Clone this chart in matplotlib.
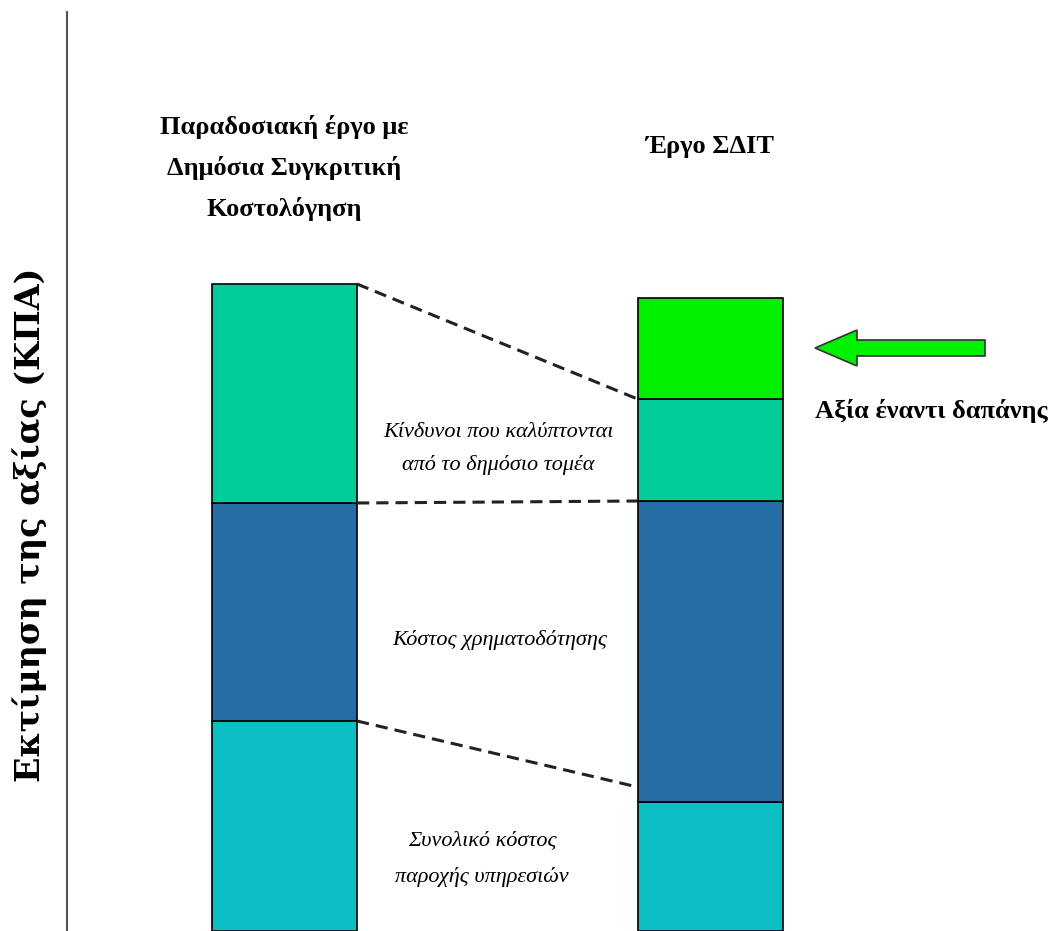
import matplotlib.pyplot as plt
from matplotlib.patches import FancyArrow

plt.rcParams['font.family'] = ['Liberation Serif', 'DejaVu Serif']

# stacked segments, bottom to top (arbitrary value units)
left_vals = [210, 218, 219]
right_vals = [129, 301, 102, 101]
left_colors = ['#0BBFC3', '#266CA5', '#00CC99']
right_colors = ['#0BBFC3', '#266CA5', '#00CC99', '#00F000']

# dashed connectors: (value on left bar, value on right bar)
connectors = [(647, 532), (428, 430), (210, 144)]

left_title = 'Παραδοσιακή έργο με\nΔημόσια Συγκριτική\nΚοστολόγηση'
right_title = 'Έργο ΣΔΙΤ'
ylabel = 'Εκτίμηση της αξίας (ΚΠΑ)'
seg_labels = ['Συνολικό κόστος\nπαροχής υπηρεσιών',
              'Κόστος χρηματοδότησης',
              'Κίνδυνοι που καλύπτονται\nαπό το δημόσιο τομέα']
vfm_label = 'Αξία έναντι δαπάνης'

fig = plt.figure(figsize=(10.51, 9.31), dpi=100)
ax = fig.add_axes([67/1051, 0, 1 - 67/1051, 919/931])
ax.set_xlim(67, 1051)
ax.set_ylim(0, 919)
for s in ['top', 'right', 'bottom']:
    ax.spines[s].set_visible(False)
ax.spines['left'].set_color('#555555')
ax.spines['left'].set_linewidth(1.5)
ax.set_xticks([])
ax.set_yticks([])

xl, xr, w = 284.5, 710, 145

b = 0
for v, c in zip(left_vals, left_colors):
    ax.bar(xl, v, w, bottom=b, color=c, edgecolor='black', linewidth=1.2)
    b += v
b = 0
for v, c in zip(right_vals, right_colors):
    ax.bar(xr, v, w, bottom=b, color=c, edgecolor='black', linewidth=1.2)
    b += v

for yl, yr in connectors:
    ax.plot([xl + w/2, xr - w/2], [yl, yr], color='#222222', lw=2.2,
            dashes=(4, 2.3))

ax.text(xl, 763, left_title, ha='center', va='center', fontsize=19,
        fontweight='bold', linespacing=1.87)
ax.text(xr, 785, right_title, ha='center', va='center', fontsize=19,
        fontweight='bold')

ax.text(498, 482, seg_labels[2], ha='center', va='center', fontsize=16,
        style='italic', linespacing=1.9)
ax.text(500, 291, seg_labels[1], ha='center', va='center', fontsize=16,
        style='italic')
ax.text(482, 72, seg_labels[0], ha='center', va='center', fontsize=16,
        style='italic', linespacing=2.15)

ax.add_patch(FancyArrow(985, 583, -170, 0, width=16, head_width=36,
                        head_length=42, length_includes_head=True,
                        facecolor='#00F000', edgecolor='#333333', lw=1.2))
ax.text(931, 520, vfm_label, ha='center', va='center', fontsize=19,
        fontweight='bold')

fig.text(30/1051, 406/931, ylabel, rotation=90, ha='center', va='center',
         fontsize=24, fontweight='bold', family='DejaVu Serif')

fig.savefig('out.png', dpi=100)
